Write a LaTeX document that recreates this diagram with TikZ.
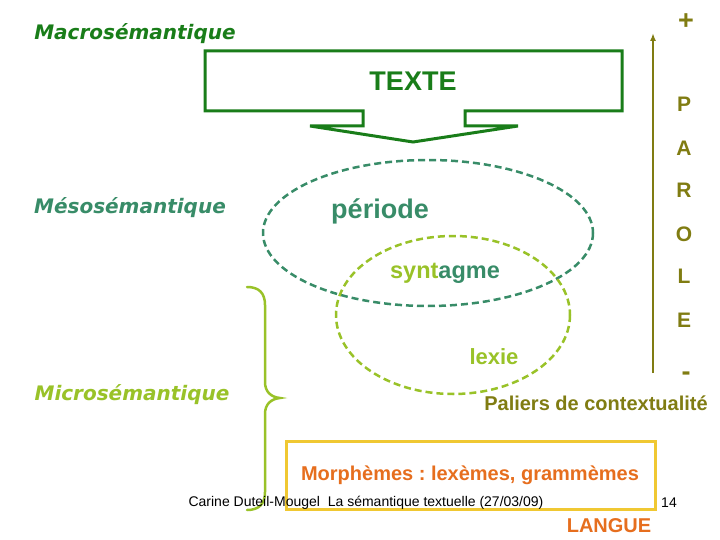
\documentclass[tikz,border=0pt]{standalone}
\usepackage{fontspec}
\setmainfont{Liberation Sans}
\newfontfamily\labelfont{DejaVu Sans}
\usepackage{xcolor}
\usetikzlibrary{arrows.meta, positioning, calc}
\frenchspacing
\definecolor{macrogreen}{RGB}{25,125,25}
\definecolor{mesoteal}{RGB}{56,140,104}
\definecolor{microgreen}{RGB}{153,194,40}
\definecolor{paroleolive}{RGB}{128,124,18}
\definecolor{languegold}{RGB}{240,200,50}
\definecolor{langueorange}{RGB}{230,110,30}
\tikzset{
  levellabel/.style={font=\labelfont\bfseries\itshape\fontsize{20}{24}\selectfont},
  parolelabel/.style={text=paroleolive,font=\bfseries\fontsize{21}{24}\selectfont},
  unitlabel/.style={font=\bfseries\fontsize{23.5}{27}\selectfont},
  dashring/.style={dash pattern=on 7pt off 4pt,line width=2.5pt},
  scalearrow/.style={-{Latex[length=8pt,width=6pt]},line width=2pt,draw=paroleolive},
  footer/.style={font=\fontsize{14}{16}\selectfont,text=black}
}
\begin{document}
\begin{tikzpicture}[x=1pt,y=-1pt]
  \useasboundingbox (0,0) rectangle (720,540);
  % levels
  \node[levellabel, text=macrogreen] (macro) at (135,34) {Macrosémantique};
  \node[levellabel, text=mesoteal] (meso) at (130,208) {Mésosémantique};
  \node[levellabel, text=microgreen] (micro) at (132,395) {Microsémantique};

  % TEXTE down arrow box
  \draw[macrogreen, line width=3pt, line join=miter]
    (205,51) -- (622,51) -- (622,111) -- (465,111) -- (465,126) -- (518,126)
    -- (413,142) -- (310,126) -- (363,126) -- (363,111) -- (205,111) -- cycle;
  \node[text=macrogreen, font=\bfseries\fontsize{27}{30}\selectfont] (texte) at (413,81) {TEXTE};

  % ellipses
  \draw[dashring, mesoteal] (428,233) ellipse [x radius=165, y radius=73];
  \draw[dashring, microgreen] (453,315) ellipse [x radius=117, y radius=79];
  \node[unitlabel, text=mesoteal, font=\bfseries\fontsize{27}{30}\selectfont] (periode) at (380,211) {période};
  \node[unitlabel] (syntagme) at (445,273) {\textcolor{microgreen}{synt}\textcolor{mesoteal}{agme}};
  \node[unitlabel, text=microgreen, font=\bfseries\fontsize{22}{26}\selectfont] (lexie) at (494,357) {lexie};

  % brace
  \draw[microgreen, line width=2.5pt, line cap=round]
    (247,287) .. controls (259,287) and (265,293) .. (265,305) -- (265,382)
    .. controls (265,392) and (271,397) .. (280,398)
    .. controls (271,399) and (265,404) .. (265,414) -- (265,492)
    .. controls (265,504) and (259,510) .. (247,510);

  % scale of contextuality
  \coordinate (scalebot) at (653,373);
  \coordinate (scaletop) at (653,33);
  \draw[scalearrow] (scalebot) -- (scaletop);
  \node[parolelabel, font=\bfseries\fontsize{27}{30}\selectfont] (plus) at (686,22) {+};
  \node[parolelabel] (p) at (684,104) {P};
  \node[parolelabel] (a) at (684,148) {A};
  \node[parolelabel] (r) at (684,190) {R};
  \node[parolelabel] (o) at (684,234) {O};
  \node[parolelabel] (l) at (684,276) {L};
  \node[parolelabel] (e) at (684,320) {E};
  \node[parolelabel, font=\bfseries\fontsize{27}{30}\selectfont] (minus) at (686,376) {-};
  \node[text=paroleolive, font=\bfseries\fontsize{20}{24}\selectfont] (paliers) at (596,403) {Paliers de contextualité};

  % LANGUE box
  \draw[languegold, line width=3pt] (286,441) rectangle (655,509);
  \node[text=langueorange, font=\bfseries\fontsize{20}{24}\selectfont] (morph) at (470,475) {Morphèmes : lexèmes, grammèmes};
  \node[footer] (credit) at (366,503) {Carine Duteil-Mougel\ \ La sémantique textuelle (27/03/09)};
  \node[footer] (page) at (669,503) {14};
  \node[text=langueorange, font=\bfseries\fontsize{20}{24}\selectfont] (langue) at (609,526) {LANGUE};
\end{tikzpicture}
\end{document}
